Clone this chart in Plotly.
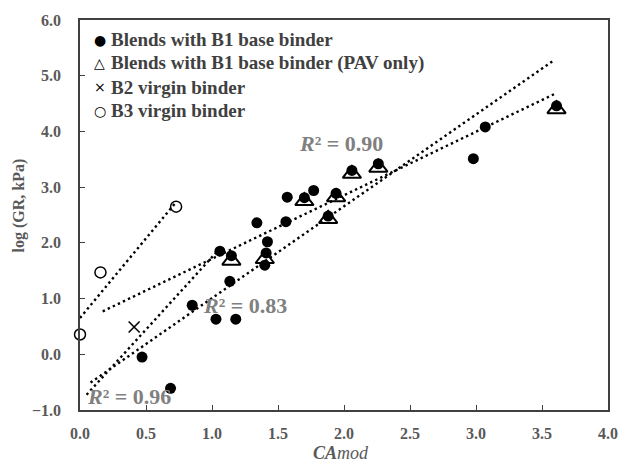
import numpy as np
import plotly.graph_objects as go

# ---- series data -------------------------------------------------------
series_names = [
    "Blends with B1 base binder",
    "Blends with B1 base binder (PAV only)",
    "B2 virgin binder",
    "B3 virgin binder",
]

blend_x = [0.47, 0.686, 0.85, 1.03, 1.18, 1.06, 1.135, 1.147, 1.34, 1.42, 1.41, 1.40,
           1.56, 1.57, 1.70, 1.77, 1.88, 1.94, 2.06, 2.26, 2.98, 3.07, 3.61]
blend_y = [-0.05, -0.61, 0.88, 0.63, 0.63, 1.85, 1.31, 1.77, 2.36, 2.02, 1.82, 1.60,
           2.38, 2.82, 2.81, 2.94, 2.48, 2.89, 3.30, 3.42, 3.51, 4.08, 4.46]

pav_x = [1.147, 1.40, 1.70, 1.88, 1.94, 2.06, 2.26, 3.61]
pav_y = [1.68, 1.71, 2.75, 2.43, 2.82, 3.24, 3.35, 4.40]

b2_x = [0.41]
b2_y = [0.49]

b3_x = [0.0, 0.155, 0.728]
b3_y = [0.355, 1.47, 2.65]

# linear trendlines: y = slope * x + intercept over [x_start, x_end]
trend_slope = [2.857, 2.60, 1.648, 1.14]
trend_intercept = [0.652, -0.856, -0.64, 0.574]
trend_x_start = [0.0, 0.05, 0.08, 0.172]
trend_x_end = [0.728, 1.06, 3.58, 3.60]
trend_r2 = ["0.91", "0.96", "0.83", "0.90"]
# label anchors (left edge, vertical middle) in data units
r2_label_x = [-0.082, 0.035, 0.92, 1.645]
r2_label_y = [2.71, -0.76, 0.87, 3.79]

x_ticks = [0.0, 0.5, 1.0, 1.5, 2.0, 2.5, 3.0, 3.5, 4.0]
y_ticks = [-1.0, 0.0, 1.0, 2.0, 3.0, 4.0, 5.0, 6.0]

# ---- styling -----------------------------------------------------------
FONT = "Liberation Serif"
TICK_GRAY = "#595959"
LEGEND_GRAY = "#404040"
R2_GRAY = "#808080"
AXIS_COLOR = "#404040"

W, H = 630, 470
M = dict(l=80, r=15, t=15, b=60)
plot_w = W - M["l"] - M["r"]
plot_h = H - M["t"] - M["b"]


def px_to_paper(px, py):
    return (px - M["l"]) / plot_w, (H - M["b"] - py) / plot_h


fig = go.Figure()

# trendlines (dotted)
for s, b, x0, x1 in zip(trend_slope, trend_intercept, trend_x_start, trend_x_end):
    xs = np.array([x0, x1])
    fig.add_trace(go.Scatter(
        x=xs, y=s * xs + b, mode="lines", showlegend=False, hoverinfo="skip",
        line=dict(color="black", width=2.4, dash="2.4px,3.2px"),
    ))

fig.add_trace(go.Scatter(
    x=pav_x, y=pav_y, mode="markers", name=series_names[1], showlegend=False,
    marker=dict(symbol="triangle-up-open", size=16, color="black", line=dict(width=2, color="black")),
))
fig.add_trace(go.Scatter(
    x=blend_x, y=blend_y, mode="markers", name=series_names[0], showlegend=False,
    marker=dict(symbol="circle", size=11, color="black"),
))
fig.add_trace(go.Scatter(
    x=b2_x, y=b2_y, mode="markers", name=series_names[2], showlegend=False,
    marker=dict(symbol="x-thin-open", size=11, color="black", line=dict(width=1.6, color="black")),
))
fig.add_trace(go.Scatter(
    x=b3_x, y=b3_y, mode="markers", name=series_names[3], showlegend=False, cliponaxis=False,
    marker=dict(symbol="circle-open", size=11, color="black", line=dict(width=1.5, color="black")),
))

annotations = []

# R² labels
for txt, lx, ly in zip(trend_r2, r2_label_x, r2_label_y):
    annotations.append(dict(
        x=lx, y=ly, xref="x", yref="y", xanchor="left", yanchor="middle",
        text=f"<b><i>R</i>² = {txt}</b>", showarrow=False,
        font=dict(family=FONT, size=22, color=R2_GRAY),
    ))

# legend block drawn as text rows
legend_symbols = ["●", "△", "×", "○"]
row_y = [35, 59, 83, 107]
for sym, name, ry in zip(legend_symbols, series_names, row_y):
    sx, sy = px_to_paper(100, ry)
    annotations.append(dict(
        x=sx, y=sy, xref="paper", yref="paper", xanchor="center", yanchor="middle",
        text=sym, showarrow=False, font=dict(family="DejaVu Sans", size=14, color="black"),
    ))
    tx, ty = px_to_paper(109, ry)
    annotations.append(dict(
        x=tx, y=ty, xref="paper", yref="paper", xanchor="left", yanchor="middle",
        text=f"<b>{name}</b>", showarrow=False,
        font=dict(family=FONT, size=19, color=LEGEND_GRAY),
    ))

# axis titles
ax_x, ax_y = px_to_paper(344, 454)
annotations.append(dict(
    x=ax_x, y=ax_y, xref="paper", yref="paper", xanchor="center", yanchor="middle",
    text="<b><i>CA</i></b><i>mod</i>", showarrow=False,
    font=dict(family=FONT, size=18, color=TICK_GRAY),
))
ay_x, ay_y = px_to_paper(18, 203)
annotations.append(dict(
    x=ay_x, y=ay_y, xref="paper", yref="paper", xanchor="center", yanchor="middle",
    text="<b>log (GR, kPa)</b>", showarrow=False, textangle=-90,
    font=dict(family=FONT, size=16, color=TICK_GRAY),
))

axis_common = dict(
    showgrid=False, zeroline=False, showline=True, linecolor=AXIS_COLOR, linewidth=1.5,
    mirror=True, ticks="inside", ticklen=5, tickwidth=1.2, tickcolor=AXIS_COLOR,
    tickfont=dict(family=FONT, size=16, color=TICK_GRAY), tickformat=".1f",
)

fig.update_layout(
    width=W, height=H, margin=M,
    paper_bgcolor="white", plot_bgcolor="white",
    xaxis=dict(range=[0, 4], tickvals=x_ticks, ticklabelstandoff=8, **axis_common),
    yaxis=dict(range=[-1, 6], tickvals=y_ticks, ticklabelstandoff=14, **axis_common),
    annotations=annotations,
    showlegend=False,
)

# tick labels in bold
fig.update_xaxes(ticktext=[f"<b>{v:.1f}</b>" for v in x_ticks])
fig.update_yaxes(ticktext=[f"<b>{v:.1f}</b>".replace("-", "−") for v in y_ticks])

fig.write_html("out.html")
